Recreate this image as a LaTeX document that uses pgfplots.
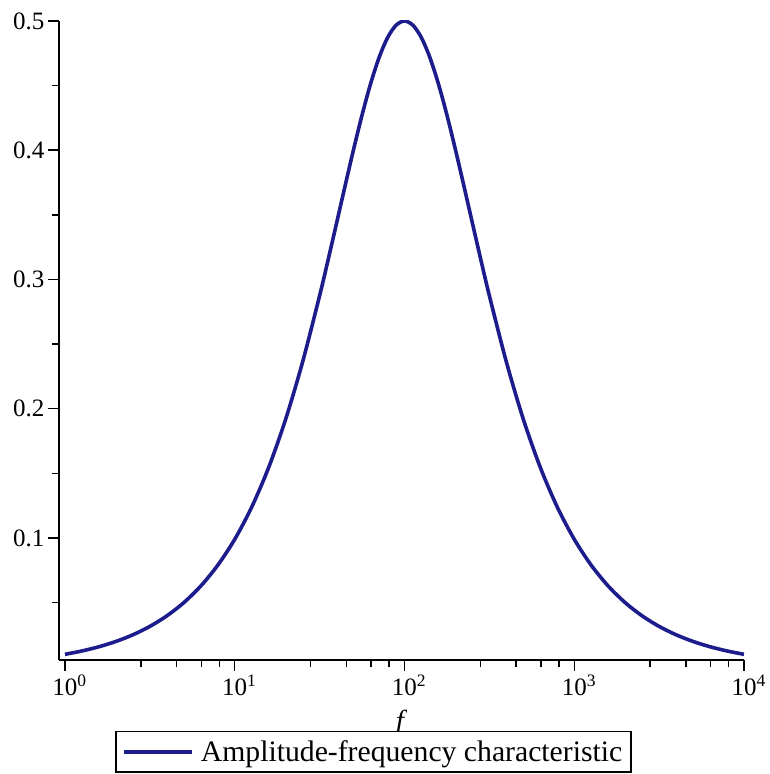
\documentclass[border=0pt]{standalone}
\usepackage{fontspec}
\setmainfont{Liberation Serif}
\usepackage{pgfplots}
\pgfplotsset{compat=1.18}
\definecolor{curve}{RGB}{28,28,140}
\begin{document}
\begin{tikzpicture}
\begin{axis}[
  name=ax,
  scale only axis,
  width=685pt, height=639pt,
  xmode=log, log basis x=10,
  xmin=0.922, xmax=10000,
  ymin=0.0056, ymax=0.5,
  axis lines=left,
  axis line style={-, line width=1.8pt},
  tick align=outside,
  major tick length=11pt,
  minor tick length=7pt,
  tick style={black, line width=1.5pt},
  xtick={1,10,100,1000,10000},
  xticklabels={10\rlap{\textsuperscript{0}},10\rlap{\textsuperscript{1}},10\rlap{\textsuperscript{2}},10\rlap{\textsuperscript{3}},10\rlap{\textsuperscript{4}}},
  minor xtick={2.8,4.54,6.35,8.13,28,45.4,63.5,81.3,280,454,635,813,2800,4540,6350,8130},
  ytick={0.1,0.2,0.3,0.4,0.5},
  yticklabels={0.1,0.2,0.3,0.4,0.5},
  minor ytick={0.05,0.15,0.25,0.35,0.45},
  tick label style={font=\fontsize{25}{25}\selectfont},
  xlabel={\textit{f}},
  xlabel style={font=\fontsize{29}{29}\selectfont, at={(axis description cs:0.5,0)}, anchor=base, yshift=-70pt},
  legend style={at={(rel axis cs:0.0818,-0.111)}, anchor=north west, draw=black, line width=1.5pt,
    font=\fontsize{29.7}{30}\selectfont, inner xsep=6.5pt, inner ysep=7pt},
  legend image code/.code={\draw[#1] (0pt,0pt) -- (68pt,0pt); \path (73pt,0pt);},
]
\addplot[color=curve, line width=3.6pt, smooth] coordinates {
  (1,0.009999) (1.2589,0.012587) (1.5849,0.015845) (1.9953,0.019945)
  (2.5119,0.025103) (3.1623,0.031591) (3.9811,0.039748) (5.0119,0.049993)
  (6.3096,0.062846) (7.9433,0.078935) (10,0.099010) (12.589,0.123929)
  (15.849,0.154605) (19.953,0.191887) (25.119,0.236281) (31.623,0.287480)
  (35.481,0.315139) (39.811,0.343646) (44.668,0.372384) (50.119,0.400571)
  (56.234,0.427238) (63.096,0.451296) (70.795,0.471590) (79.433,0.487044)
  (89.125,0.496700) (100,0.5) (112.20,0.496700) (125.89,0.487044)
  (141.25,0.471590) (158.49,0.451296) (177.83,0.427238) (199.53,0.400571)
  (223.87,0.372384) (251.19,0.343646) (281.84,0.315139) (316.23,0.287480)
  (398.11,0.236281) (501.19,0.191887) (630.96,0.154605) (794.33,0.123929)
  (1000,0.099010) (1258.9,0.078935) (1584.9,0.062846) (1995.3,0.049993)
  (2511.9,0.039748) (3162.3,0.031591) (3981.1,0.025103) (5011.9,0.019945)
  (6309.6,0.015845) (7943.3,0.012587) (10000,0.009999)
};
\addlegendentry{Amplitude-frequency characteristic}
\end{axis}
\pgfresetboundingbox
\path[use as bounding box] ([shift={(-59pt,-114pt)}]ax.south west) rectangle ([shift={(26pt,21pt)}]ax.north east);
\end{tikzpicture}
\end{document}
